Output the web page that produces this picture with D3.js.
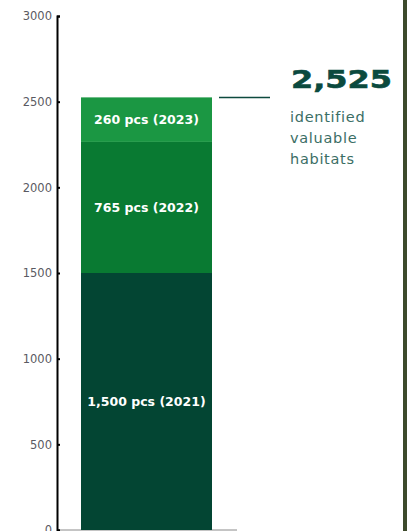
<!DOCTYPE html>
<html>
<head>
<meta charset="utf-8">
<script src="https://cdn.jsdelivr.net/npm/d3@7"></script>
<style>
  html, body { margin: 0; padding: 0; background: #ffffff; }
  svg { display: block; }
</style>
</head>
<body>
<svg id="chart" width="407" height="531"></svg>
<script>
// Valuable habitats identified per year, stacked into one cumulative bar
const years = ["2021", "2022", "2023"];
const counts = [1500, 765, 260];
const yTickValues = [0, 500, 1000, 1500, 2000, 2500, 3000];
const barCategory = ["habitats"];
const totalCaption = ["identified", "valuable", "habitats"];
const segmentColors = ["#034533", "#097a32", "#1b9743"];

const W = 407, H = 531;
const svg = d3.select("#chart");

const y = d3.scaleLinear().domain([0, 3000]).range([530, 16]);
const x = d3.scaleBand().domain(barCategory).range([81, 212]).padding(0);

// Stack the yearly counts bottom-up
const row = {};
years.forEach((yr, i) => { row[yr] = counts[i]; });
const stacked = d3.stack().keys(years)([row]);
const total = d3.sum(counts);
const fmt = d3.format(",");

// Photo strip at the right edge
svg.append("rect")
  .attr("x", 403).attr("y", 0).attr("width", 4).attr("height", H)
  .attr("fill", "#3d4a2c");

// Baseline
svg.append("line")
  .attr("x1", 57).attr("x2", 237)
  .attr("y1", y(0)).attr("y2", y(0))
  .attr("stroke", "#8a8a8a").attr("stroke-width", 1);

// Bar segments
const seg = svg.append("g").selectAll("g")
  .data(stacked)
  .join("g");

seg.append("rect")
  .attr("x", x("habitats"))
  .attr("width", x.bandwidth())
  .attr("y", d => y(d[0][1]))
  .attr("height", d => y(d[0][0]) - y(d[0][1]))
  .attr("fill", (d, i) => segmentColors[i]);

seg.append("text")
  .attr("x", x("habitats") + x.bandwidth() / 2)
  .attr("y", d => (y(d[0][0]) + y(d[0][1])) / 2)
  .attr("dy", "0.35em")
  .attr("text-anchor", "middle")
  .attr("fill", "#ffffff")
  .attr("font-family", "DejaVu Sans, sans-serif")
  .attr("font-weight", "bold")
  .attr("font-size", 12.5)
  .text((d, i) => `${fmt(counts[i])} pcs (${years[i]})`);

// Y axis with inward ticks
const axis = d3.axisLeft(y)
  .tickValues(yTickValues)
  .tickFormat(d3.format("d"))
  .tickSize(-3)
  .tickSizeOuter(-3)
  .tickPadding(5);

const gAxis = svg.append("g")
  .attr("transform", "translate(57,0)")
  .call(axis);
gAxis.select(".domain").attr("stroke", "#000").attr("stroke-width", 2);
gAxis.selectAll(".tick line").attr("stroke", "#000").attr("stroke-width", 2);
gAxis.selectAll(".tick text")
  .attr("fill", "#5a5a62")
  .attr("font-family", "DejaVu Sans, sans-serif")
  .attr("font-size", 11.5);

// Total callout
const topY = y(total);
svg.append("line")
  .attr("x1", 219).attr("x2", 270)
  .attr("y1", topY).attr("y2", topY)
  .attr("stroke", "#0d4a3e").attr("stroke-width", 1.5);

svg.append("text")
  .attr("x", 291).attr("y", 88)
  .attr("fill", "#0b4a3e")
  .attr("font-family", "DejaVu Sans, sans-serif")
  .attr("font-weight", "900")
  .attr("font-size", 24)
  .attr("stroke", "#0b4a3e")
  .attr("stroke-width", 0.6)
  .attr("textLength", 101)
  .attr("lengthAdjust", "spacingAndGlyphs")
  .text(fmt(total));

svg.append("g").selectAll("text")
  .data(totalCaption)
  .join("text")
  .attr("x", 290)
  .attr("y", (d, i) => 122 + i * 21)
  .attr("fill", "#3b6e65")
  .attr("font-family", "DejaVu Sans, sans-serif")
  .attr("font-size", 14.5)
  .attr("letter-spacing", 0.7)
  .text(d => d);
</script>
</body>
</html>
